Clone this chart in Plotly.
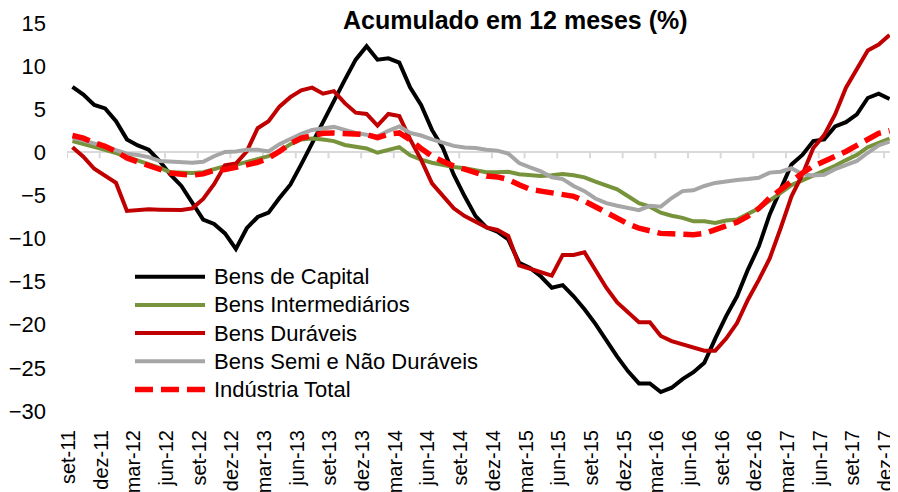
import plotly.graph_objects as go

# ---------------- data (Sep-2011 .. Dec-2017, monthly) ----------------
month_abbr = ["set", "out", "nov", "dez", "jan", "fev", "mar", "abr", "mai", "jun", "jul", "ago"]
start_year = 11
n_months = 76
months = []
for k in range(n_months):
    y = start_year + (8 + k) // 12
    months.append(f"{month_abbr[k % 12]}-{y:02d}")

bens_capital = [7.6, 6.7, 5.5, 5.1, 3.6, 1.5, 0.8, 0.3, -1.0, -2.6, -3.9, -5.9, -7.8, -8.3, -9.4,
                -11.2, -8.8, -7.5, -7.0, -5.3, -3.75, -1.4, 1.1, 3.6, 6.1, 8.4, 10.75, 12.3, 10.75, 10.9,
                10.4, 7.5, 5.5, 2.6, 0.5, -2.6, -5.1, -7.4, -8.7, -9.2, -10.1, -12.8, -13.4, -14.4, -15.7,
                -15.4, -16.7, -18.2, -19.9, -21.9, -23.7, -25.4, -26.8, -26.8, -27.8, -27.3, -26.3, -25.5, -24.4, -21.6,
                -19.0, -16.7, -13.6, -10.9, -7.2, -4.3, -1.4, -0.3, 1.3, 1.5, 3.0, 3.5, 4.4, 6.3, 6.8, 6.2]

bens_intermediarios = [1.3, 1.0, 0.7, 0.3, -0.1, -0.5, -0.9, -1.35, -1.8, -2.3, -2.4, -2.4, -2.3, -2.0, -1.6,
                       -1.45, -1.1, -0.75, -0.45, 0.1, 0.95, 1.5, 1.6, 1.5, 1.3, 0.85, 0.65, 0.45, -0.05, 0.25,
                       0.6, -0.35, -0.85, -1.2, -1.5, -1.7, -1.85, -2.05, -2.3, -2.3, -2.25, -2.55, -2.7, -2.75, -2.65,
                       -2.5, -2.65, -2.9, -3.4, -3.8, -4.3, -5.1, -5.9, -6.3, -7.0, -7.35, -7.6, -8.0, -8.0, -8.2,
                       -7.9, -7.8, -7.2, -6.5, -5.6, -4.7, -3.8, -3.25, -2.7, -2.2, -1.55, -0.9, -0.3, 0.6, 1.15, 1.6]

bens_duraveis = [0.6, -0.5, -1.9, -2.7, -3.55, -6.8, -6.7, -6.6, -6.65, -6.7, -6.7, -6.5, -5.4, -3.7, -1.5,
                 -1.3, 0.1, 2.8, 3.6, 5.3, 6.4, 7.2, 7.5, 6.8, 7.1, 5.7, 4.6, 4.45, 3.1, 4.45,
                 4.2, 1.5, -0.85, -3.6, -5.0, -6.5, -7.4, -8.0, -8.7, -9.0, -9.7, -13.1, -13.5, -13.9, -14.3,
                 -11.9, -11.9, -11.6, -13.7, -15.7, -17.4, -18.6, -19.7, -19.7, -21.3, -21.9, -22.3, -22.7, -23.0, -23.0,
                 -21.6, -19.8, -17.1, -14.8, -12.3, -8.8, -5.1, -2.6, 0.5, 2.0, 4.4, 7.5, 9.7, 11.8, 12.5, 13.6]

bens_semi_nao_duraveis = [1.7, 1.4, 1.0, 0.7, 0.25, -0.15, -0.3, -0.55, -1.0, -1.1, -1.15, -1.2, -1.1, -0.45, 0.05,
                          0.1, 0.3, 0.3, 0.1, 0.95, 1.55, 2.15, 2.6, 2.75, 2.95, 2.6, 2.25, 2.05, 1.85, 2.5,
                          3.0, 2.25, 1.95, 1.5, 1.1, 0.75, 0.55, 0.5, 0.3, 0.2, -0.15, -1.25, -1.75, -2.2, -2.9,
                          -3.1, -3.9, -4.5, -5.35, -5.9, -6.2, -6.45, -6.7, -6.2, -6.3, -5.3, -4.5, -4.4, -3.9, -3.55,
                          -3.35, -3.2, -3.1, -2.95, -2.35, -2.25, -1.85, -2.55, -2.7, -2.6, -1.95, -1.5, -1.0, -0.05, 0.8, 1.25]

industria_total = [1.95, 1.65, 1.1, 0.7, 0.1, -0.65, -1.1, -1.5, -1.95, -2.4, -2.55, -2.65, -2.5, -2.1, -2.0,
                   -1.8, -1.45, -1.15, -0.65, 0.1, 1.0, 1.65, 1.95, 2.2, 2.25, 2.2, 2.1, 2.05, 1.7, 2.1,
                   2.25, 1.45, 0.45, -0.45, -1.05, -1.6, -1.95, -2.35, -2.75, -2.85, -3.15, -3.75, -4.3, -4.5, -4.65,
                   -4.8, -5.1, -5.65, -6.35, -7.0, -7.7, -8.3, -8.8, -9.05, -9.4, -9.45, -9.5, -9.55, -9.4, -9.0,
                   -8.65, -8.1, -7.4, -6.5, -5.3, -4.3, -3.25, -2.4, -1.6, -1.05, -0.45, 0.1, 0.8, 1.5, 2.2, 2.5]

series_names = ["Bens de Capital", "Bens Intermediários", "Bens Duráveis",
                "Bens Semi e Não Duráveis", "Indústria Total"]
series_values = [bens_capital, bens_intermediarios, bens_duraveis,
                 bens_semi_nao_duraveis, industria_total]

y_ticks = [15, 10, 5, 0, -5, -10, -15, -20, -25, -30]
title_text = "Acumulado em 12 meses (%)"

# ---------------- styles ----------------
colors = ["#000000", "#77933C", "#C00000", "#A6A6A6", "#FF0000"]
widths = [4, 4, 4, 4, 5.5]
dashes = ["solid", "solid", "solid", "solid", "18px,8px"]
FONT = "Arial, 'Liberation Sans', sans-serif"

x_idx = list(range(n_months))
tick_idx = list(range(0, n_months, 3))

fig = go.Figure()
for name, vals, c, w, d in zip(series_names, series_values, colors, widths, dashes):
    fig.add_trace(go.Scatter(x=x_idx, y=vals, mode="lines", name=name,
                             line=dict(color=c, width=w, dash=d),
                             showlegend=False, hoverinfo="skip"))

# axis tick marks on the zero line (category boundaries every 3 months)
for t in tick_idx:
    fig.add_shape(type="line", xref="x", yref="y", x0=t - 0.5, x1=t - 0.5,
                  ysizemode="pixel", yanchor=0, y0=0, y1=-6,
                  line=dict(color="#D9D9D9", width=2), layer="below")

# manual legend (long line samples like the original)
leg_x0, leg_x1, leg_tx = 0.0821, 0.1667, 0.1751
leg_y0, leg_dy = 0.3461, 0.0726
for k, (name, c, w, d) in enumerate(zip(series_names, colors, widths, dashes)):
    yy = leg_y0 - k * leg_dy
    fig.add_shape(type="line", xref="paper", yref="paper", x0=leg_x0, x1=leg_x1, y0=yy, y1=yy,
                  line=dict(color=c, width=w, dash=d))
    fig.add_annotation(xref="paper", yref="paper", x=leg_tx, y=yy, text=name,
                       showarrow=False, xanchor="left", yanchor="middle",
                       font=dict(family=FONT, size=22, color="#000000"))

fig.add_annotation(xref="paper", yref="paper", x=0.542, y=1.0075, text=f"<b>{title_text}</b>",
                   showarrow=False, xanchor="center", yanchor="middle",
                   font=dict(family=FONT, size=25, color="#000000"))

# page body has an 8px margin, so the figure is 8px smaller than the window
fig.update_layout(
    width=890, height=484,
    margin=dict(l=59, r=3, t=15, b=81, autoexpand=False),
    paper_bgcolor="white", plot_bgcolor="white",
    showlegend=False,
    xaxis=dict(range=[-0.5, n_months - 0.5], tickmode="array", tickvals=tick_idx,
               ticktext=[months[i] for i in tick_idx], tickangle=-90,
               showgrid=False, zeroline=False, showline=False, ticks="",
               automargin=False, ticklabelstandoff=14, ticklabeloverflow="allow",
               ticklabelshift=-4,
               tickfont=dict(family=FONT, size=20, color="#000000")),
    yaxis=dict(range=[-30, 15], tickmode="array", tickvals=y_ticks,
               showgrid=False, zeroline=True, zerolinecolor="#D9D9D9", zerolinewidth=2,
               showline=False, ticks="", automargin=False, ticklabelstandoff=20,
               tickfont=dict(family=FONT, size=22, color="#000000")),
)

fig.write_html("out.html")
